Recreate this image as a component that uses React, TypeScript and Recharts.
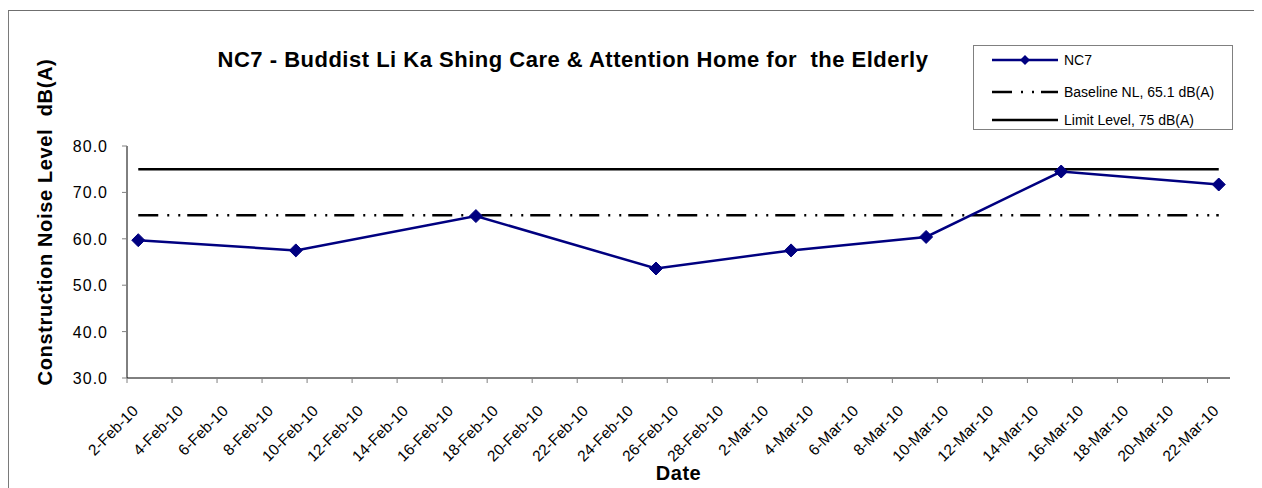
import React from 'react';
import { LineChart, Line, XAxis, YAxis, Legend } from 'recharts';

const measurementDates = ['2-Feb-10', '9-Feb-10', '17-Feb-10', '25-Feb-10', '3-Mar-10', '9-Mar-10', '15-Mar-10', '22-Mar-10'];
const nc7Values = [59.7, 57.5, 64.9, 53.6, 57.5, 60.4, 74.5, 71.7];
const baselineValues = [65.1, 65.1, 65.1, 65.1, 65.1, 65.1, 65.1, 65.1];
const limitValues = [75, 75, 75, 75, 75, 75, 75, 75];
const xTickLabels = [
  '2-Feb-10', '4-Feb-10', '6-Feb-10', '8-Feb-10', '10-Feb-10', '12-Feb-10', '14-Feb-10', '16-Feb-10',
  '18-Feb-10', '20-Feb-10', '22-Feb-10', '24-Feb-10', '26-Feb-10', '28-Feb-10', '2-Mar-10', '4-Mar-10',
  '6-Mar-10', '8-Mar-10', '10-Mar-10', '12-Mar-10', '14-Mar-10', '16-Mar-10', '18-Mar-10', '20-Mar-10', '22-Mar-10',
];
const yTicks = [30, 40, 50, 60, 70, 80];
const seriesNames = ['NC7', 'Baseline NL, 65.1 dB(A)', 'Limit Level, 75 dB(A)'];
const chartTitle = 'NC7 - Buddist Li Ka Shing Care & Attention Home for  the Elderly';
const yAxisTitle = 'Construction Noise Level  dB(A)';
const xAxisTitle = 'Date';

const FONT = '"Liberation Sans", Arial, sans-serif';
const MONTHS: Record<string, number> = { Jan: 0, Feb: 1, Mar: 2, Apr: 3 };
const ORIGIN = Date.UTC(2010, 1, 2);
const dayIndex = (s: string) => {
  const [d, m, y] = s.split('-');
  return Math.round((Date.UTC(2000 + Number(y), MONTHS[m], Number(d)) - ORIGIN) / 86400000);
};
const tickDays = xTickLabels.map(dayIndex);
const tickLabelByDay: Record<number, string> = {};
xTickLabels.forEach((l, i) => (tickLabelByDay[tickDays[i]] = l));
const domainMax = tickDays[tickDays.length - 1] + 1;

// Excel date axis plots each date at the middle of its day
const data = measurementDates.map((d, i) => ({
  x: dayIndex(d) + 0.5,
  nc7: nc7Values[i],
  baseline: baselineValues[i],
  limit: limitValues[i],
}));

const NAVY = '#000080';

const Diamond = (props: any) => {
  const { cx, cy } = props;
  if (cx == null || cy == null) return null;
  const r = 6.5;
  return <path d={`M${cx},${cy - r}L${cx + r},${cy}L${cx},${cy + r}L${cx - r},${cy}Z`} fill={NAVY} stroke={NAVY} strokeWidth={1} />;
};

const XTick = (props: any) => {
  const { x, y, payload } = props;
  const ax = x + 12;
  const ay = y + 29;
  return (
    <text x={ax} y={ay} transform={`rotate(-45 ${ax} ${ay})`} textAnchor="end" fontSize={15.5} fontFamily={FONT} fill="#000">
      {tickLabelByDay[payload.value]}
    </text>
  );
};

const YTick = (props: any) => {
  const { x, y, payload } = props;
  return (
    <text x={x} y={y + 6} textAnchor="end" fontSize={16} letterSpacing={1} fontFamily={FONT} fill="#000">
      {Number(payload.value).toFixed(1)}
    </text>
  );
};

const legendRows = [
  { name: seriesNames[0], y: 14, kind: 'nc7' },
  { name: seriesNames[1], y: 46, kind: 'baseline' },
  { name: seriesNames[2], y: 74, kind: 'limit' },
];

const renderLegend = () => (
  <div style={{ position: 'relative', width: 260, height: 85, border: '1px solid #808080', background: '#fff', fontFamily: FONT, fontSize: 14, color: '#000', boxSizing: 'border-box' }}>
    {legendRows.map((r) => (
      <div key={r.name} style={{ position: 'absolute', left: 0, top: r.y - 8, height: 16, display: 'flex', alignItems: 'center' }}>
        <svg width={90} height={16} style={{ display: 'block' }}>
          {r.kind === 'nc7' && (
            <g>
              <line x1={18} y1={8} x2={84} y2={8} stroke={NAVY} strokeWidth={2.5} />
              <path d="M51,3L56,8L51,13L46,8Z" fill={NAVY} />
            </g>
          )}
          {r.kind === 'baseline' && <line x1={18} y1={8} x2={84} y2={8} stroke="#000" strokeWidth={2.5} strokeDasharray="20 9 2 9 2 7" />}
          {r.kind === 'limit' && <line x1={18} y1={8} x2={84} y2={8} stroke="#000" strokeWidth={2.5} />}
        </svg>
        <span style={{ whiteSpace: 'nowrap' }}>{r.name}</span>
      </div>
    ))}
  </div>
);

export default function App() {
  return (
    <div style={{ position: 'relative', width: 1254, height: 480, fontFamily: FONT }}>
      <div style={{ position: 'absolute', left: 0, top: 38, width: 1130, textAlign: 'center', fontWeight: 'bold', fontSize: 22, letterSpacing: 0.5, lineHeight: '28px', whiteSpace: 'pre' }}>
        {chartTitle}
      </div>
      <div style={{ position: 'absolute', left: 0, top: 0 }}>
        <LineChart width={1254} height={480} data={data} margin={{ top: 138, right: 32, bottom: 20, left: 59 }}>
          <XAxis
            dataKey="x"
            type="number"
            domain={[0, domainMax]}
            ticks={tickDays}
            interval={0}
            allowDataOverflow
            height={90}
            axisLine={{ stroke: '#000', strokeWidth: 1 }}
            tickLine={{ stroke: '#808080' }}
            tickSize={5}
            tickMargin={0}
            tick={<XTick />}
            label={{
              content: (p: any) => {
                const vb = p.viewBox || {};
                return (
                  <text x={vb.x + vb.width / 2} y={472} textAnchor="middle" fontWeight="bold" fontSize={20} letterSpacing={0.5} fontFamily={FONT} fill="#000">
                    {xAxisTitle}
                  </text>
                );
              },
            }}
          />
          <YAxis
            type="number"
            domain={[30, 80]}
            ticks={yTicks}
            interval={0}
            width={60}
            axisLine={{ stroke: '#000', strokeWidth: 1 }}
            tickLine={{ stroke: '#808080' }}
            tickSize={5}
            tickMargin={14}
            tick={<YTick />}
            label={{
              content: (p: any) => {
                const vb = p.viewBox || {};
                const cx = vb.x - 22;
                const cy = vb.y + vb.height / 2 - 40;
                return (
                  <text x={cx} y={cy} transform={`rotate(-90 ${cx} ${cy})`} textAnchor="middle" dominantBaseline="central" fontWeight="bold" fontSize={20} letterSpacing={0.65} fontFamily={FONT} fill="#000" style={{ whiteSpace: 'pre' }}>
                    {yAxisTitle}
                  </text>
                );
              },
            }}
          />
          <Legend
            content={renderLegend}
            layout="horizontal"
            verticalAlign="middle"
            align="center"
            wrapperStyle={{ position: 'absolute', left: 965, top: 37, width: 260, height: 85 }}
          />
          <Line dataKey="baseline" name={seriesNames[1]} stroke="#000" strokeWidth={2.5} strokeDasharray="20 9 2 9 2 7" dot={false} activeDot={false} isAnimationActive={false} />
          <Line dataKey="limit" name={seriesNames[2]} stroke="#000" strokeWidth={2.5} dot={false} activeDot={false} isAnimationActive={false} />
          <Line dataKey="nc7" name={seriesNames[0]} stroke={NAVY} strokeWidth={2.5} dot={<Diamond />} activeDot={false} isAnimationActive={false} />
        </LineChart>
      </div>
      <div style={{ position: 'absolute', left: -1, top: 2, width: 1262, height: 500, borderTop: '1px solid #6f6f6f', borderLeft: '2px solid #7a7a7a', boxSizing: 'border-box', pointerEvents: 'none', zIndex: 5 }} />
    </div>
  );
}
